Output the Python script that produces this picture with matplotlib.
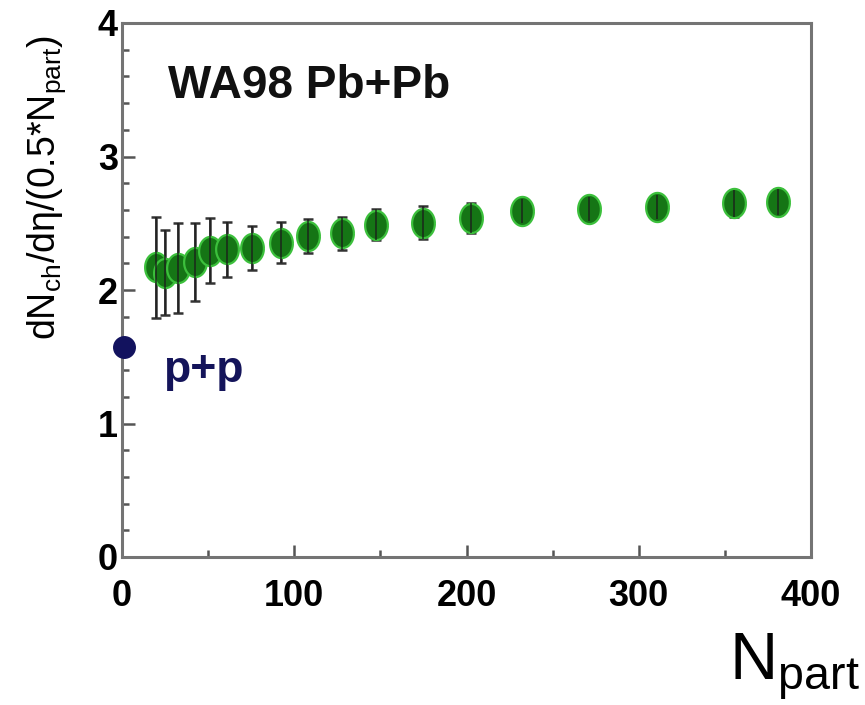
import numpy as np
import matplotlib
matplotlib.use("Agg")
import matplotlib.pyplot as plt
from matplotlib.ticker import MultipleLocator
from matplotlib import font_manager

# WA98 Pb+Pb charged-particle pseudorapidity density per participant pair
npart = [19.6, 25.1, 32.5, 42.2, 51.3, 61.0, 75.6, 92.5, 107.7, 127.7,
         147.5, 174.8, 202.5, 232.5, 271.0, 310.8, 355.5, 380.6]
dndeta = [2.17, 2.13, 2.165, 2.21, 2.295, 2.305, 2.315, 2.355, 2.405, 2.425,
          2.49, 2.505, 2.54, 2.59, 2.61, 2.62, 2.65, 2.66]
dndeta_err = [0.38, 0.32, 0.335, 0.29, 0.245, 0.205, 0.165, 0.155, 0.125, 0.125,
              0.115, 0.125, 0.115, 0.09, 0.09, 0.09, 0.10, 0.095]

# p+p reference
pp_npart = [1.0]
pp_dndeta = [1.573]

x_ticks = [0, 100, 200, 300, 400]
y_ticks = [0, 1, 2, 3, 4]

names = {f.name for f in font_manager.fontManager.ttflist}
narrow = "Liberation Sans Narrow" if "Liberation Sans Narrow" in names else "Liberation Sans"

fig = plt.figure(figsize=(8.65, 7.05), dpi=100)
ax = fig.add_axes([122 / 865, 1 - 557 / 705, (811 - 122) / 865, (557 - 23) / 705])

# slightly tall ellipse marker
t = np.linspace(0, 2 * np.pi, 60)
ell = np.column_stack([0.78 * np.cos(t), np.sin(t)])

ax.errorbar(npart, dndeta, yerr=dndeta_err, fmt="none", ecolor="#333333",
            elinewidth=1.8, capsize=3.6, capthick=1.8, zorder=2)
ax.plot(npart, dndeta, linestyle="none", marker=ell, markersize=21,
        markerfacecolor="#157515", markeredgecolor="#3cc03c",
        markeredgewidth=1.6, zorder=3)
ax.errorbar(npart, dndeta, yerr=dndeta_err, fmt="none", ecolor="#1c1c1c",
            elinewidth=1.4, capsize=0, zorder=4, alpha=0.7)

ax.plot(pp_npart, pp_dndeta, linestyle="none", marker="o", markersize=15.5,
        color="#12125e", clip_on=False, zorder=5)

ax.set_xlim(0, 400)
ax.set_ylim(0, 4)
ax.set_xticks(x_ticks)
ax.set_yticks(y_ticks)
ax.xaxis.set_minor_locator(MultipleLocator(50))
ax.yaxis.set_minor_locator(MultipleLocator(0.2))

for s in ax.spines.values():
    s.set_color("#747474")
    s.set_linewidth(2.2)

ax.tick_params(which="major", direction="in", length=9, width=1.8, color="#555555")
ax.tick_params(which="minor", direction="in", length=5, width=1.8, color="#555555")
ax.tick_params(axis="x", which="both", top=False, pad=16)
ax.tick_params(axis="y", which="both", right=False, pad=3)

for lab in ax.get_xticklabels() + ax.get_yticklabels():
    lab.set_fontfamily(narrow)
    lab.set_fontweight("bold")
    lab.set_fontsize(26)

ax.text(0.067, 0.86, "WA98 Pb+Pb", transform=ax.transAxes, fontsize=33,
        fontweight="bold", family="Liberation Sans", color="#111111",
        ha="left", va="baseline")
ax.text(0.06, 0.328, "p+p", transform=ax.transAxes, fontsize=32,
        fontweight="bold", family="Liberation Sans", color="#14145a",
        ha="left", va="baseline")

fig.text(47 / 865, 1 - 188 / 705, r"$\mathregular{dN_{ch}/d\eta/(0.5{*}N_{part})}$",
         rotation=90, ha="center", va="center", fontsize=27, family=narrow)
fig.text(860 / 865, 1 - 680 / 705, r"$\mathregular{N_{part}}$",
         ha="right", va="baseline", fontsize=48, family=narrow)

fig.savefig("out.png", dpi=100, facecolor="white")
